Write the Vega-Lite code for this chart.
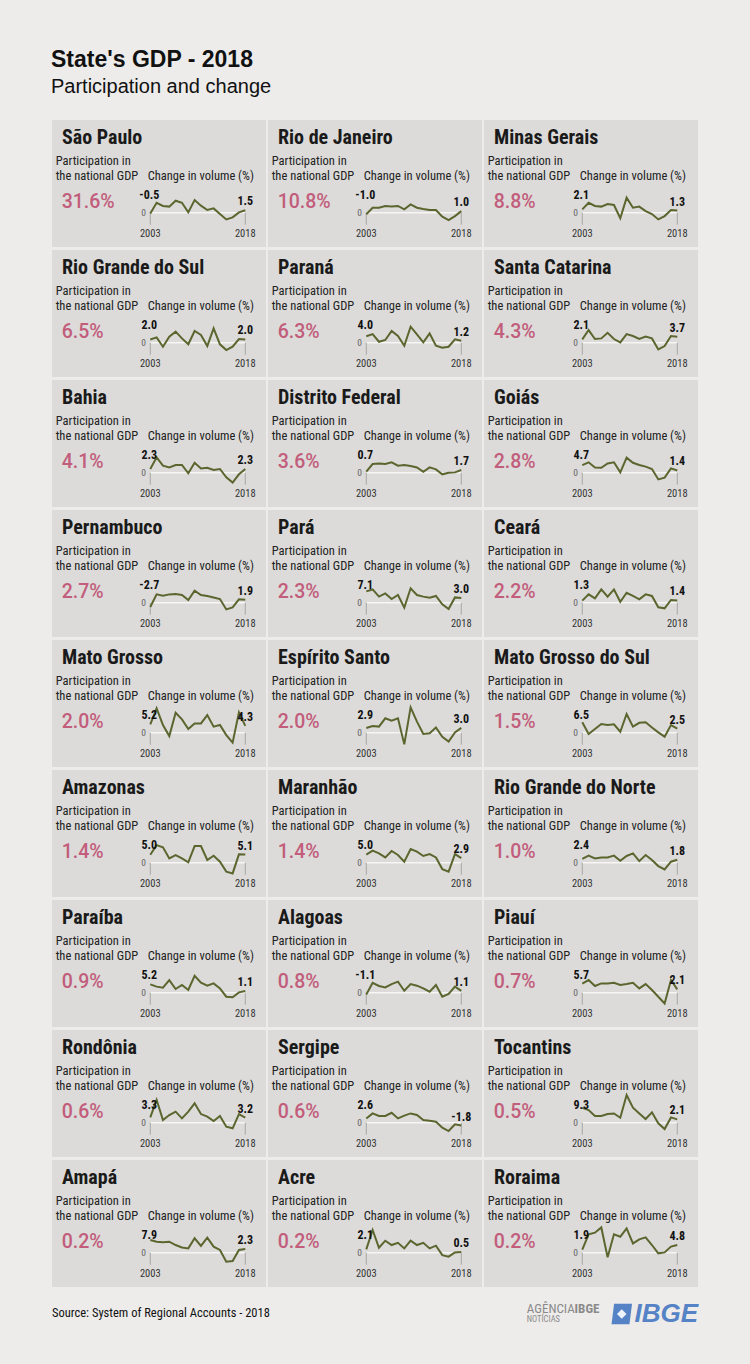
{
  "$schema": "https://vega.github.io/schema/vega-lite/v6.json",
  "background": "#edecea",
  "padding": {"left": 51, "top": 49, "right": 53, "bottom": 31},
  "title": {
    "text": "State's GDP - 2018",
    "subtitle": "Participation and change",
    "anchor": "start",
    "frame": "group",
    "font": "Liberation Sans",
    "fontSize": 23,
    "fontWeight": "bold",
    "color": "#111111",
    "subtitleFont": "Liberation Sans",
    "subtitleFontSize": 20,
    "subtitleColor": "#111111",
    "subtitlePadding": 5,
    "offset": 23,
    "dx": -1
  },
  "datasets": {
    "shares": [
      {"state": "São Paulo", "share": 0.316},
      {"state": "Rio de Janeiro", "share": 0.108},
      {"state": "Minas Gerais", "share": 0.088},
      {"state": "Rio Grande do Sul", "share": 0.065},
      {"state": "Paraná", "share": 0.063},
      {"state": "Santa Catarina", "share": 0.043},
      {"state": "Bahia", "share": 0.041},
      {"state": "Distrito Federal", "share": 0.036},
      {"state": "Goiás", "share": 0.028},
      {"state": "Pernambuco", "share": 0.027},
      {"state": "Pará", "share": 0.023},
      {"state": "Ceará", "share": 0.022},
      {"state": "Mato Grosso", "share": 0.020},
      {"state": "Espírito Santo", "share": 0.020},
      {"state": "Mato Grosso do Sul", "share": 0.015},
      {"state": "Amazonas", "share": 0.014},
      {"state": "Maranhão", "share": 0.014},
      {"state": "Rio Grande do Norte", "share": 0.010},
      {"state": "Paraíba", "share": 0.009},
      {"state": "Alagoas", "share": 0.008},
      {"state": "Piauí", "share": 0.007},
      {"state": "Rondônia", "share": 0.006},
      {"state": "Sergipe", "share": 0.006},
      {"state": "Tocantins", "share": 0.005},
      {"state": "Amapá", "share": 0.002},
      {"state": "Acre", "share": 0.002},
      {"state": "Roraima", "share": 0.002}
    ],
    "series": [
      {"state":"São Paulo","year":2003,"change":-0.5},{"state":"São Paulo","year":2004,"change":6.2},{"state":"São Paulo","year":2005,"change":4.2},{"state":"São Paulo","year":2006,"change":3.8},{"state":"São Paulo","year":2007,"change":7.5},{"state":"São Paulo","year":2008,"change":6.2},{"state":"São Paulo","year":2009,"change":0.2},{"state":"São Paulo","year":2010,"change":7.9},{"state":"São Paulo","year":2011,"change":4.4},{"state":"São Paulo","year":2012,"change":1.7},{"state":"São Paulo","year":2013,"change":2.7},{"state":"São Paulo","year":2014,"change":-0.8},{"state":"São Paulo","year":2015,"change":-4.2},{"state":"São Paulo","year":2016,"change":-2.9},{"state":"São Paulo","year":2017,"change":0.2},{"state":"São Paulo","year":2018,"change":1.5},
      {"state":"Rio de Janeiro","year":2003,"change":-1.0},{"state":"Rio de Janeiro","year":2004,"change":3.1},{"state":"Rio de Janeiro","year":2005,"change":3.1},{"state":"Rio de Janeiro","year":2006,"change":4.2},{"state":"Rio de Janeiro","year":2007,"change":3.8},{"state":"Rio de Janeiro","year":2008,"change":4.2},{"state":"Rio de Janeiro","year":2009,"change":2.1},{"state":"Rio de Janeiro","year":2010,"change":5.2},{"state":"Rio de Janeiro","year":2011,"change":3.1},{"state":"Rio de Janeiro","year":2012,"change":2.3},{"state":"Rio de Janeiro","year":2013,"change":1.7},{"state":"Rio de Janeiro","year":2014,"change":1.7},{"state":"Rio de Janeiro","year":2015,"change":-2.5},{"state":"Rio de Janeiro","year":2016,"change":-4.6},{"state":"Rio de Janeiro","year":2017,"change":-2.1},{"state":"Rio de Janeiro","year":2018,"change":1.0},
      {"state":"Minas Gerais","year":2003,"change":2.1},{"state":"Minas Gerais","year":2004,"change":6.2},{"state":"Minas Gerais","year":2005,"change":4.2},{"state":"Minas Gerais","year":2006,"change":3.8},{"state":"Minas Gerais","year":2007,"change":5.4},{"state":"Minas Gerais","year":2008,"change":4.8},{"state":"Minas Gerais","year":2009,"change":-3.5},{"state":"Minas Gerais","year":2010,"change":9.4},{"state":"Minas Gerais","year":2011,"change":3.1},{"state":"Minas Gerais","year":2012,"change":3.8},{"state":"Minas Gerais","year":2013,"change":1.0},{"state":"Minas Gerais","year":2014,"change":-0.8},{"state":"Minas Gerais","year":2015,"change":-4.2},{"state":"Minas Gerais","year":2016,"change":-2.1},{"state":"Minas Gerais","year":2017,"change":1.7},{"state":"Minas Gerais","year":2018,"change":1.3},
      {"state":"Rio Grande do Sul","year":2003,"change":2.0},{"state":"Rio Grande do Sul","year":2004,"change":3.3},{"state":"Rio Grande do Sul","year":2005,"change":-2.5},{"state":"Rio Grande do Sul","year":2006,"change":3.8},{"state":"Rio Grande do Sul","year":2007,"change":6.9},{"state":"Rio Grande do Sul","year":2008,"change":2.7},{"state":"Rio Grande do Sul","year":2009,"change":-1.0},{"state":"Rio Grande do Sul","year":2010,"change":7.3},{"state":"Rio Grande do Sul","year":2011,"change":4.8},{"state":"Rio Grande do Sul","year":2012,"change":-2.1},{"state":"Rio Grande do Sul","year":2013,"change":9.0},{"state":"Rio Grande do Sul","year":2014,"change":-1.0},{"state":"Rio Grande do Sul","year":2015,"change":-4.6},{"state":"Rio Grande do Sul","year":2016,"change":-2.5},{"state":"Rio Grande do Sul","year":2017,"change":2.3},{"state":"Rio Grande do Sul","year":2018,"change":2.0},
      {"state":"Paraná","year":2003,"change":4.0},{"state":"Paraná","year":2004,"change":5.4},{"state":"Paraná","year":2005,"change":0.6},{"state":"Paraná","year":2006,"change":1.7},{"state":"Paraná","year":2007,"change":7.3},{"state":"Paraná","year":2008,"change":4.2},{"state":"Paraná","year":2009,"change":-1.9},{"state":"Paraná","year":2010,"change":10.0},{"state":"Paraná","year":2011,"change":5.2},{"state":"Paraná","year":2012,"change":0.2},{"state":"Paraná","year":2013,"change":5.8},{"state":"Paraná","year":2014,"change":-1.9},{"state":"Paraná","year":2015,"change":-3.1},{"state":"Paraná","year":2016,"change":-2.5},{"state":"Paraná","year":2017,"change":2.1},{"state":"Paraná","year":2018,"change":1.2},
      {"state":"Santa Catarina","year":2003,"change":2.1},{"state":"Santa Catarina","year":2004,"change":7.9},{"state":"Santa Catarina","year":2005,"change":2.3},{"state":"Santa Catarina","year":2006,"change":2.7},{"state":"Santa Catarina","year":2007,"change":6.2},{"state":"Santa Catarina","year":2008,"change":2.3},{"state":"Santa Catarina","year":2009,"change":0.2},{"state":"Santa Catarina","year":2010,"change":5.4},{"state":"Santa Catarina","year":2011,"change":4.2},{"state":"Santa Catarina","year":2012,"change":2.3},{"state":"Santa Catarina","year":2013,"change":3.8},{"state":"Santa Catarina","year":2014,"change":2.7},{"state":"Santa Catarina","year":2015,"change":-4.2},{"state":"Santa Catarina","year":2016,"change":-2.1},{"state":"Santa Catarina","year":2017,"change":4.2},{"state":"Santa Catarina","year":2018,"change":3.7},
      {"state":"Bahia","year":2003,"change":2.3},{"state":"Bahia","year":2004,"change":9.6},{"state":"Bahia","year":2005,"change":4.4},{"state":"Bahia","year":2006,"change":3.3},{"state":"Bahia","year":2007,"change":4.8},{"state":"Bahia","year":2008,"change":4.8},{"state":"Bahia","year":2009,"change":-0.4},{"state":"Bahia","year":2010,"change":6.2},{"state":"Bahia","year":2011,"change":2.7},{"state":"Bahia","year":2012,"change":3.1},{"state":"Bahia","year":2013,"change":1.7},{"state":"Bahia","year":2014,"change":2.3},{"state":"Bahia","year":2015,"change":-2.9},{"state":"Bahia","year":2016,"change":-6.2},{"state":"Bahia","year":2017,"change":-1.0},{"state":"Bahia","year":2018,"change":2.3},
      {"state":"Distrito Federal","year":2003,"change":0.7},{"state":"Distrito Federal","year":2004,"change":5.4},{"state":"Distrito Federal","year":2005,"change":5.8},{"state":"Distrito Federal","year":2006,"change":5.4},{"state":"Distrito Federal","year":2007,"change":6.5},{"state":"Distrito Federal","year":2008,"change":4.4},{"state":"Distrito Federal","year":2009,"change":4.8},{"state":"Distrito Federal","year":2010,"change":4.2},{"state":"Distrito Federal","year":2011,"change":3.3},{"state":"Distrito Federal","year":2012,"change":0.6},{"state":"Distrito Federal","year":2013,"change":3.3},{"state":"Distrito Federal","year":2014,"change":2.1},{"state":"Distrito Federal","year":2015,"change":-1.0},{"state":"Distrito Federal","year":2016,"change":0.0},{"state":"Distrito Federal","year":2017,"change":0.2},{"state":"Distrito Federal","year":2018,"change":1.7},
      {"state":"Goiás","year":2003,"change":4.7},{"state":"Goiás","year":2004,"change":6.5},{"state":"Goiás","year":2005,"change":3.3},{"state":"Goiás","year":2006,"change":3.1},{"state":"Goiás","year":2007,"change":5.8},{"state":"Goiás","year":2008,"change":6.5},{"state":"Goiás","year":2009,"change":0.2},{"state":"Goiás","year":2010,"change":9.4},{"state":"Goiás","year":2011,"change":6.2},{"state":"Goiás","year":2012,"change":4.8},{"state":"Goiás","year":2013,"change":3.8},{"state":"Goiás","year":2014,"change":2.3},{"state":"Goiás","year":2015,"change":-4.2},{"state":"Goiás","year":2016,"change":-3.1},{"state":"Goiás","year":2017,"change":2.7},{"state":"Goiás","year":2018,"change":1.4},
      {"state":"Pernambuco","year":2003,"change":-2.7},{"state":"Pernambuco","year":2004,"change":5.2},{"state":"Pernambuco","year":2005,"change":4.4},{"state":"Pernambuco","year":2006,"change":5.2},{"state":"Pernambuco","year":2007,"change":5.4},{"state":"Pernambuco","year":2008,"change":4.8},{"state":"Pernambuco","year":2009,"change":1.7},{"state":"Pernambuco","year":2010,"change":7.5},{"state":"Pernambuco","year":2011,"change":4.8},{"state":"Pernambuco","year":2012,"change":4.2},{"state":"Pernambuco","year":2013,"change":3.3},{"state":"Pernambuco","year":2014,"change":2.3},{"state":"Pernambuco","year":2015,"change":-4.2},{"state":"Pernambuco","year":2016,"change":-2.9},{"state":"Pernambuco","year":2017,"change":2.1},{"state":"Pernambuco","year":2018,"change":1.9},
      {"state":"Pará","year":2003,"change":7.1},{"state":"Pará","year":2004,"change":8.3},{"state":"Pará","year":2005,"change":3.8},{"state":"Pará","year":2006,"change":5.8},{"state":"Pará","year":2007,"change":2.3},{"state":"Pará","year":2008,"change":4.8},{"state":"Pará","year":2009,"change":-3.1},{"state":"Pará","year":2010,"change":9.0},{"state":"Pará","year":2011,"change":4.8},{"state":"Pará","year":2012,"change":3.8},{"state":"Pará","year":2013,"change":3.1},{"state":"Pará","year":2014,"change":4.2},{"state":"Pará","year":2015,"change":-1.0},{"state":"Pará","year":2016,"change":-4.0},{"state":"Pará","year":2017,"change":3.3},{"state":"Pará","year":2018,"change":3.0},
      {"state":"Ceará","year":2003,"change":1.3},{"state":"Ceará","year":2004,"change":5.2},{"state":"Ceará","year":2005,"change":2.7},{"state":"Ceará","year":2006,"change":8.3},{"state":"Ceará","year":2007,"change":3.8},{"state":"Ceará","year":2008,"change":8.3},{"state":"Ceará","year":2009,"change":0.6},{"state":"Ceará","year":2010,"change":6.2},{"state":"Ceará","year":2011,"change":4.2},{"state":"Ceará","year":2012,"change":2.1},{"state":"Ceará","year":2013,"change":5.2},{"state":"Ceará","year":2014,"change":4.2},{"state":"Ceará","year":2015,"change":-2.9},{"state":"Ceará","year":2016,"change":-3.5},{"state":"Ceará","year":2017,"change":1.7},{"state":"Ceará","year":2018,"change":1.4},
      {"state":"Mato Grosso","year":2003,"change":5.2},{"state":"Mato Grosso","year":2004,"change":15.2},{"state":"Mato Grosso","year":2005,"change":4.8},{"state":"Mato Grosso","year":2006,"change":-2.1},{"state":"Mato Grosso","year":2007,"change":12.5},{"state":"Mato Grosso","year":2008,"change":8.3},{"state":"Mato Grosso","year":2009,"change":2.3},{"state":"Mato Grosso","year":2010,"change":5.8},{"state":"Mato Grosso","year":2011,"change":5.8},{"state":"Mato Grosso","year":2012,"change":11.0},{"state":"Mato Grosso","year":2013,"change":3.8},{"state":"Mato Grosso","year":2014,"change":4.8},{"state":"Mato Grosso","year":2015,"change":-1.5},{"state":"Mato Grosso","year":2016,"change":-6.2},{"state":"Mato Grosso","year":2017,"change":12.7},{"state":"Mato Grosso","year":2018,"change":4.3},
      {"state":"Espírito Santo","year":2003,"change":2.9},{"state":"Espírito Santo","year":2004,"change":4.2},{"state":"Espírito Santo","year":2005,"change":3.8},{"state":"Espírito Santo","year":2006,"change":9.0},{"state":"Espírito Santo","year":2007,"change":7.5},{"state":"Espírito Santo","year":2008,"change":9.0},{"state":"Espírito Santo","year":2009,"change":-7.3},{"state":"Espírito Santo","year":2010,"change":15.8},{"state":"Espírito Santo","year":2011,"change":6.9},{"state":"Espírito Santo","year":2012,"change":-0.8},{"state":"Espírito Santo","year":2013,"change":-0.4},{"state":"Espírito Santo","year":2014,"change":3.3},{"state":"Espírito Santo","year":2015,"change":-2.5},{"state":"Espírito Santo","year":2016,"change":-5.6},{"state":"Espírito Santo","year":2017,"change":0.2},{"state":"Espírito Santo","year":2018,"change":3.0},
      {"state":"Mato Grosso do Sul","year":2003,"change":6.5},{"state":"Mato Grosso do Sul","year":2004,"change":-0.8},{"state":"Mato Grosso do Sul","year":2005,"change":2.3},{"state":"Mato Grosso do Sul","year":2006,"change":5.4},{"state":"Mato Grosso do Sul","year":2007,"change":4.8},{"state":"Mato Grosso do Sul","year":2008,"change":5.2},{"state":"Mato Grosso do Sul","year":2009,"change":0.6},{"state":"Mato Grosso do Sul","year":2010,"change":11.7},{"state":"Mato Grosso do Sul","year":2011,"change":3.8},{"state":"Mato Grosso do Sul","year":2012,"change":6.2},{"state":"Mato Grosso do Sul","year":2013,"change":6.5},{"state":"Mato Grosso do Sul","year":2014,"change":3.3},{"state":"Mato Grosso do Sul","year":2015,"change":0.2},{"state":"Mato Grosso do Sul","year":2016,"change":-2.5},{"state":"Mato Grosso do Sul","year":2017,"change":4.8},{"state":"Mato Grosso do Sul","year":2018,"change":2.5},
      {"state":"Amazonas","year":2003,"change":5.0},{"state":"Amazonas","year":2004,"change":11.0},{"state":"Amazonas","year":2005,"change":9.6},{"state":"Amazonas","year":2006,"change":2.7},{"state":"Amazonas","year":2007,"change":4.8},{"state":"Amazonas","year":2008,"change":2.7},{"state":"Amazonas","year":2009,"change":0.2},{"state":"Amazonas","year":2010,"change":10.4},{"state":"Amazonas","year":2011,"change":10.4},{"state":"Amazonas","year":2012,"change":1.7},{"state":"Amazonas","year":2013,"change":4.4},{"state":"Amazonas","year":2014,"change":0.6},{"state":"Amazonas","year":2015,"change":-5.6},{"state":"Amazonas","year":2016,"change":-6.7},{"state":"Amazonas","year":2017,"change":5.2},{"state":"Amazonas","year":2018,"change":5.1},
      {"state":"Maranhão","year":2003,"change":5.0},{"state":"Maranhão","year":2004,"change":7.5},{"state":"Maranhão","year":2005,"change":5.8},{"state":"Maranhão","year":2006,"change":3.3},{"state":"Maranhão","year":2007,"change":7.3},{"state":"Maranhão","year":2008,"change":4.8},{"state":"Maranhão","year":2009,"change":0.6},{"state":"Maranhão","year":2010,"change":8.5},{"state":"Maranhão","year":2011,"change":6.9},{"state":"Maranhão","year":2012,"change":4.2},{"state":"Maranhão","year":2013,"change":5.4},{"state":"Maranhão","year":2014,"change":3.3},{"state":"Maranhão","year":2015,"change":-4.0},{"state":"Maranhão","year":2016,"change":-5.6},{"state":"Maranhão","year":2017,"change":5.4},{"state":"Maranhão","year":2018,"change":2.9},
      {"state":"Rio Grande do Norte","year":2003,"change":2.4},{"state":"Rio Grande do Norte","year":2004,"change":4.4},{"state":"Rio Grande do Norte","year":2005,"change":2.7},{"state":"Rio Grande do Norte","year":2006,"change":3.3},{"state":"Rio Grande do Norte","year":2007,"change":3.3},{"state":"Rio Grande do Norte","year":2008,"change":4.4},{"state":"Rio Grande do Norte","year":2009,"change":1.2},{"state":"Rio Grande do Norte","year":2010,"change":4.2},{"state":"Rio Grande do Norte","year":2011,"change":5.8},{"state":"Rio Grande do Norte","year":2012,"change":1.0},{"state":"Rio Grande do Norte","year":2013,"change":4.8},{"state":"Rio Grande do Norte","year":2014,"change":1.7},{"state":"Rio Grande do Norte","year":2015,"change":-2.1},{"state":"Rio Grande do Norte","year":2016,"change":-4.2},{"state":"Rio Grande do Norte","year":2017,"change":0.6},{"state":"Rio Grande do Norte","year":2018,"change":1.8},
      {"state":"Paraíba","year":2003,"change":5.2},{"state":"Paraíba","year":2004,"change":3.8},{"state":"Paraíba","year":2005,"change":3.1},{"state":"Paraíba","year":2006,"change":7.9},{"state":"Paraíba","year":2007,"change":2.3},{"state":"Paraíba","year":2008,"change":4.8},{"state":"Paraíba","year":2009,"change":1.7},{"state":"Paraíba","year":2010,"change":10.6},{"state":"Paraíba","year":2011,"change":6.2},{"state":"Paraíba","year":2012,"change":4.4},{"state":"Paraíba","year":2013,"change":5.8},{"state":"Paraíba","year":2014,"change":2.7},{"state":"Paraíba","year":2015,"change":-2.5},{"state":"Paraíba","year":2016,"change":-2.9},{"state":"Paraíba","year":2017,"change":0.2},{"state":"Paraíba","year":2018,"change":1.1},
      {"state":"Alagoas","year":2003,"change":-1.1},{"state":"Alagoas","year":2004,"change":6.2},{"state":"Alagoas","year":2005,"change":4.2},{"state":"Alagoas","year":2006,"change":3.3},{"state":"Alagoas","year":2007,"change":5.4},{"state":"Alagoas","year":2008,"change":6.9},{"state":"Alagoas","year":2009,"change":1.2},{"state":"Alagoas","year":2010,"change":5.4},{"state":"Alagoas","year":2011,"change":4.4},{"state":"Alagoas","year":2012,"change":2.7},{"state":"Alagoas","year":2013,"change":0.6},{"state":"Alagoas","year":2014,"change":4.8},{"state":"Alagoas","year":2015,"change":-2.5},{"state":"Alagoas","year":2016,"change":-0.8},{"state":"Alagoas","year":2017,"change":3.8},{"state":"Alagoas","year":2018,"change":1.1},
      {"state":"Piauí","year":2003,"change":5.7},{"state":"Piauí","year":2004,"change":7.9},{"state":"Piauí","year":2005,"change":4.2},{"state":"Piauí","year":2006,"change":5.8},{"state":"Piauí","year":2007,"change":5.8},{"state":"Piauí","year":2008,"change":6.2},{"state":"Piauí","year":2009,"change":4.8},{"state":"Piauí","year":2010,"change":5.4},{"state":"Piauí","year":2011,"change":6.2},{"state":"Piauí","year":2012,"change":2.7},{"state":"Piauí","year":2013,"change":5.4},{"state":"Piauí","year":2014,"change":1.7},{"state":"Piauí","year":2015,"change":-2.5},{"state":"Piauí","year":2016,"change":-6.7},{"state":"Piauí","year":2017,"change":7.9},{"state":"Piauí","year":2018,"change":2.1},
      {"state":"Rondônia","year":2003,"change":3.3},{"state":"Rondônia","year":2004,"change":14.2},{"state":"Rondônia","year":2005,"change":1.7},{"state":"Rondônia","year":2006,"change":4.8},{"state":"Rondônia","year":2007,"change":6.9},{"state":"Rondônia","year":2008,"change":2.7},{"state":"Rondônia","year":2009,"change":6.9},{"state":"Rondônia","year":2010,"change":12.1},{"state":"Rondônia","year":2011,"change":5.4},{"state":"Rondônia","year":2012,"change":3.8},{"state":"Rondônia","year":2013,"change":1.0},{"state":"Rondônia","year":2014,"change":4.2},{"state":"Rondônia","year":2015,"change":-2.5},{"state":"Rondônia","year":2016,"change":-3.5},{"state":"Rondônia","year":2017,"change":5.4},{"state":"Rondônia","year":2018,"change":3.2},
      {"state":"Sergipe","year":2003,"change":2.6},{"state":"Sergipe","year":2004,"change":5.8},{"state":"Sergipe","year":2005,"change":4.2},{"state":"Sergipe","year":2006,"change":4.2},{"state":"Sergipe","year":2007,"change":6.2},{"state":"Sergipe","year":2008,"change":2.7},{"state":"Sergipe","year":2009,"change":4.4},{"state":"Sergipe","year":2010,"change":5.8},{"state":"Sergipe","year":2011,"change":4.8},{"state":"Sergipe","year":2012,"change":1.7},{"state":"Sergipe","year":2013,"change":1.2},{"state":"Sergipe","year":2014,"change":0.6},{"state":"Sergipe","year":2015,"change":-3.1},{"state":"Sergipe","year":2016,"change":-5.2},{"state":"Sergipe","year":2017,"change":-1.0},{"state":"Sergipe","year":2018,"change":-1.8},
      {"state":"Tocantins","year":2003,"change":9.3},{"state":"Tocantins","year":2004,"change":7.9},{"state":"Tocantins","year":2005,"change":4.2},{"state":"Tocantins","year":2006,"change":4.2},{"state":"Tocantins","year":2007,"change":5.4},{"state":"Tocantins","year":2008,"change":5.8},{"state":"Tocantins","year":2009,"change":3.1},{"state":"Tocantins","year":2010,"change":17.3},{"state":"Tocantins","year":2011,"change":9.4},{"state":"Tocantins","year":2012,"change":5.8},{"state":"Tocantins","year":2013,"change":2.3},{"state":"Tocantins","year":2014,"change":6.5},{"state":"Tocantins","year":2015,"change":-0.4},{"state":"Tocantins","year":2016,"change":-4.0},{"state":"Tocantins","year":2017,"change":3.3},{"state":"Tocantins","year":2018,"change":2.1},
      {"state":"Amapá","year":2003,"change":7.9},{"state":"Amapá","year":2004,"change":6.9},{"state":"Amapá","year":2005,"change":6.5},{"state":"Amapá","year":2006,"change":6.9},{"state":"Amapá","year":2007,"change":4.8},{"state":"Amapá","year":2008,"change":3.3},{"state":"Amapá","year":2009,"change":2.7},{"state":"Amapá","year":2010,"change":9.0},{"state":"Amapá","year":2011,"change":4.2},{"state":"Amapá","year":2012,"change":9.4},{"state":"Amapá","year":2013,"change":3.8},{"state":"Amapá","year":2014,"change":1.7},{"state":"Amapá","year":2015,"change":-5.6},{"state":"Amapá","year":2016,"change":-5.2},{"state":"Amapá","year":2017,"change":1.7},{"state":"Amapá","year":2018,"change":2.3},
      {"state":"Acre","year":2003,"change":2.1},{"state":"Acre","year":2004,"change":14.2},{"state":"Acre","year":2005,"change":3.1},{"state":"Acre","year":2006,"change":7.5},{"state":"Acre","year":2007,"change":4.8},{"state":"Acre","year":2008,"change":6.2},{"state":"Acre","year":2009,"change":2.7},{"state":"Acre","year":2010,"change":7.5},{"state":"Acre","year":2011,"change":4.8},{"state":"Acre","year":2012,"change":6.2},{"state":"Acre","year":2013,"change":2.7},{"state":"Acre","year":2014,"change":4.4},{"state":"Acre","year":2015,"change":-1.5},{"state":"Acre","year":2016,"change":-2.5},{"state":"Acre","year":2017,"change":0.2},{"state":"Acre","year":2018,"change":0.5},
      {"state":"Roraima","year":2003,"change":1.9},{"state":"Roraima","year":2004,"change":11.5},{"state":"Roraima","year":2005,"change":12.5},{"state":"Roraima","year":2006,"change":15.8},{"state":"Roraima","year":2007,"change":-2.9},{"state":"Roraima","year":2008,"change":11.5},{"state":"Roraima","year":2009,"change":10.0},{"state":"Roraima","year":2010,"change":15.2},{"state":"Roraima","year":2011,"change":5.8},{"state":"Roraima","year":2012,"change":8.3},{"state":"Roraima","year":2013,"change":9.6},{"state":"Roraima","year":2014,"change":4.8},{"state":"Roraima","year":2015,"change":-0.4},{"state":"Roraima","year":2016,"change":0.2},{"state":"Roraima","year":2017,"change":3.8},{"state":"Roraima","year":2018,"change":4.8}
    ]
  },
  "vconcat": [
    {
      "data": {"name": "series"},
      "transform": [
        {"lookup": "state", "from": {"data": {"name": "shares"}, "key": "state", "fields": ["share"]}}
      ],
      "facet": {
        "field": "state",
        "type": "nominal",
        "title": null,
        "header": {"labels": false, "title": null, "labelFontSize": 0, "labelPadding": 0, "labelExpr": "''"},
        "sort": ["São Paulo","Rio de Janeiro","Minas Gerais","Rio Grande do Sul","Paraná","Santa Catarina","Bahia","Distrito Federal","Goiás","Pernambuco","Pará","Ceará","Mato Grosso","Espírito Santo","Mato Grosso do Sul","Amazonas","Maranhão","Rio Grande do Norte","Paraíba","Alagoas","Piauí","Rondônia","Sergipe","Tocantins","Amapá","Acre","Roraima"]
      },
      "columns": 3,
      "spacing": {"row": 3, "column": 2},
      "spec": {
        "width": 214,
        "height": 127,
        "layer": [
          {
            "transform": [{"filter": "datum.year === 2003"}],
            "mark": {"type": "rule", "color": "#f6f6f4", "strokeWidth": 1.5},
            "encoding": {
              "x": {"datum": 2003, "type": "quantitative", "scale": {"domain": [1987.48, 2021.27], "nice": false, "zero": false}, "axis": null},
              "x2": {"datum": 2018},
              "y": {"datum": 0, "type": "quantitative", "scale": {"domain": [-21.44, 57.94], "nice": false, "zero": false}, "axis": null}
            }
          },
          {
            "transform": [{"filter": "datum.year === 2003 || datum.year === 2018"}],
            "mark": {"type": "rule", "color": "#a8a8a6", "strokeWidth": 1},
            "encoding": {
              "x": {"field": "year", "type": "quantitative", "axis": null},
              "y": {"datum": 0, "type": "quantitative", "axis": null},
              "y2": {"datum": -7.5}
            }
          },
          {
            "mark": {"type": "line", "color": "#5b662f", "strokeWidth": 2},
            "encoding": {
              "x": {"field": "year", "type": "quantitative", "axis": null},
              "y": {"field": "change", "type": "quantitative", "axis": null}
            }
          },
          {
            "transform": [{"filter": "datum.year === 2003"}],
            "mark": {"type": "text", "text": "0", "align": "right", "baseline": "middle", "fontSize": 9.5, "color": "#666666", "font": "Roboto Condensed, Liberation Sans Narrow, DejaVu Sans Condensed, Liberation Sans"},
            "encoding": {
              "x": {"datum": 2002.32, "type": "quantitative"},
              "y": {"datum": 0, "type": "quantitative"}
            }
          },
          {
            "transform": [{"filter": "datum.year === 2003 || datum.year === 2018"}],
            "mark": {"type": "text", "align": "center", "baseline": "alphabetic", "fontSize": 10.5, "color": "#333333", "font": "Roboto Condensed, Liberation Sans Narrow, DejaVu Sans Condensed, Liberation Sans"},
            "encoding": {
              "x": {"field": "year", "type": "quantitative"},
              "y": {"datum": -15.2, "type": "quantitative"},
              "text": {"field": "year", "type": "nominal"}
            }
          },
          {
            "transform": [{"filter": "datum.year === 2003"}],
            "mark": {"type": "text", "align": "center", "baseline": "alphabetic", "dx": -1, "fontSize": 12, "fontWeight": "bold", "color": "#111111", "font": "Roboto Condensed, Liberation Sans Narrow, DejaVu Sans Condensed, Liberation Sans"},
            "encoding": {
              "x": {"field": "year", "type": "quantitative"},
              "y": {"datum": 8.25, "type": "quantitative"},
              "text": {"field": "change", "type": "quantitative", "format": ".1f"}
            }
          },
          {
            "transform": [{"filter": "datum.year === 2018"}],
            "mark": {"type": "text", "align": "center", "baseline": "alphabetic", "dy": -5, "fontSize": 12, "fontWeight": "bold", "color": "#111111", "font": "Roboto Condensed, Liberation Sans Narrow, DejaVu Sans Condensed, Liberation Sans"},
            "encoding": {
              "x": {"field": "year", "type": "quantitative"},
              "y": {"field": "change", "type": "quantitative"},
              "text": {"field": "change", "type": "quantitative", "format": ".1f"}
            }
          },
          {
            "transform": [{"filter": "datum.year === 2003"}],
            "mark": {"type": "text", "align": "left", "baseline": "alphabetic", "fontSize": 20, "fontWeight": "bold", "color": "#1a1a1a", "font": "Roboto Condensed, Liberation Sans Narrow, DejaVu Sans Condensed, Liberation Sans"},
            "encoding": {
              "x": {"datum": 1989.06, "type": "quantitative"},
              "y": {"datum": 43.1, "type": "quantitative"},
              "text": {"field": "state", "type": "nominal"}
            }
          },
          {
            "transform": [{"filter": "datum.year === 2003"}],
            "mark": {"type": "text", "align": "left", "baseline": "alphabetic", "fontSize": 12.5, "lineHeight": 15, "color": "#222222", "font": "Roboto Condensed, Liberation Sans Narrow, DejaVu Sans Condensed, Liberation Sans"},
            "encoding": {
              "x": {"datum": 1988.06, "type": "quantitative"},
              "y": {"datum": 29.6, "type": "quantitative"},
              "text": {"value": ["Participation in", "the national GDP"]}
            }
          },
          {
            "transform": [{"filter": "datum.year === 2003"}],
            "mark": {"type": "text", "align": "left", "baseline": "alphabetic", "fontSize": 12.5, "color": "#222222", "font": "Roboto Condensed, Liberation Sans Narrow, DejaVu Sans Condensed, Liberation Sans"},
            "encoding": {
              "x": {"datum": 2002.59, "type": "quantitative"},
              "y": {"datum": 20.25, "type": "quantitative"},
              "text": {"value": "Change in volume (%)"}
            }
          },
          {
            "transform": [{"filter": "datum.year === 2003"}],
            "mark": {"type": "text", "align": "left", "baseline": "alphabetic", "fontSize": 19.5, "fontWeight": 500, "color": "#c25d7c", "font": "Roboto, Liberation Sans"},
            "encoding": {
              "x": {"datum": 1989.01, "type": "quantitative"},
              "y": {"datum": 3.1, "type": "quantitative"},
              "text": {"field": "share", "type": "quantitative", "format": ".1%"}
            }
          }
        ]
      }
    },
    {
      "width": 646,
      "height": 36,
      "view": {"fill": null, "stroke": null},
      "data": {"values": [{"source": "Source: System of Regional Accounts - 2018"}]},
      "layer": [
        {
          "mark": {"type": "text", "align": "left", "baseline": "middle", "fontSize": 12.5, "color": "#111111", "font": "Roboto Condensed, Liberation Sans Narrow, DejaVu Sans Condensed, Liberation Sans"},
          "encoding": {
            "x": {"datum": 0, "type": "quantitative", "scale": {"domain": [0, 100], "nice": false, "zero": false}, "axis": null},
            "y": {"datum": 55.6, "type": "quantitative", "scale": {"domain": [0, 100], "nice": false, "zero": false}, "axis": null},
            "text": {"field": "source", "type": "nominal"}
          }
        },
        {
          "mark": {"type": "text", "text": "AGÊNCIA", "align": "left", "baseline": "middle", "fontSize": 13, "color": "#8a8a8a", "font": "Roboto Condensed, Liberation Sans Narrow, DejaVu Sans Condensed, Liberation Sans"},
          "encoding": {
            "x": {"datum": 73.5, "type": "quantitative"},
            "y": {"datum": 66.7, "type": "quantitative"}
          }
        },
        {
          "mark": {"type": "text", "text": "IBGE", "align": "left", "baseline": "middle", "fontSize": 13, "fontWeight": "bold", "color": "#8a8a8a", "font": "Roboto Condensed, Liberation Sans Narrow, DejaVu Sans Condensed, Liberation Sans"},
          "encoding": {
            "x": {"datum": 80.9, "type": "quantitative"},
            "y": {"datum": 66.7, "type": "quantitative"}
          }
        },
        {
          "mark": {"type": "text", "text": "NOTÍCIAS", "align": "left", "baseline": "middle", "fontSize": 8.5, "color": "#8a8a8a", "font": "Roboto Condensed, Liberation Sans Narrow, DejaVu Sans Condensed, Liberation Sans"},
          "encoding": {
            "x": {"datum": 73.5, "type": "quantitative"},
            "y": {"datum": 38, "type": "quantitative"}
          }
        },
        {
          "mark": {"type": "point", "shape": "M -0.75 -1 L 1 -1 L 0.75 1 L -1 1 Z", "filled": true, "size": 420, "color": "#5683c6", "opacity": 1},
          "encoding": {
            "x": {"datum": 88.2, "type": "quantitative"},
            "y": {"datum": 52.8, "type": "quantitative"}
          }
        },
        {
          "mark": {"type": "point", "shape": "diamond", "filled": true, "size": 90, "color": "#ffffff", "opacity": 0.9},
          "encoding": {
            "x": {"datum": 88.2, "type": "quantitative"},
            "y": {"datum": 52.8, "type": "quantitative"}
          }
        },
        {
          "mark": {"type": "text", "text": "IBGE", "align": "right", "baseline": "middle", "fontSize": 26, "fontWeight": "bold", "fontStyle": "italic", "color": "#5683c6", "font": "Liberation Sans"},
          "encoding": {
            "x": {"datum": 100, "type": "quantitative"},
            "y": {"datum": 52.8, "type": "quantitative"}
          }
        }
      ]
    }
  ],
  "spacing": 10,
  "config": {
    "view": {"stroke": null, "fill": "#dcdbd9"},
    "header": {"labels": false, "title": null, "labelFontSize": 0, "labelPadding": 0},
    "headerFacet": {"labels": false, "title": null, "labelFontSize": 0, "labelPadding": 0},
    "locale": {"number": {"decimal": ".", "thousands": ",", "grouping": [3], "currency": ["$", ""], "minus": "-"}}
  }
}
